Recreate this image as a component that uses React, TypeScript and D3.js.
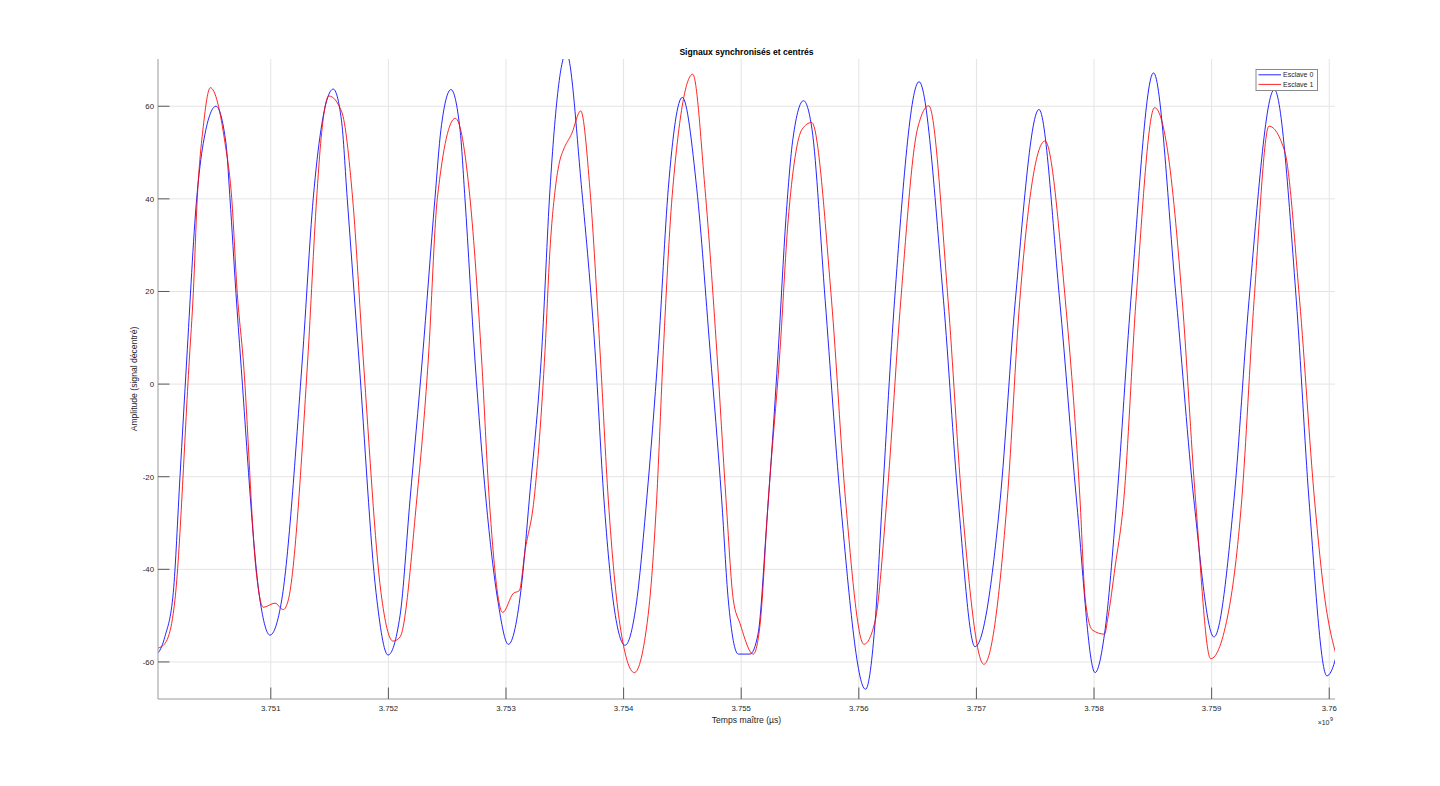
import React from "react";
import * as d3 from "d3";

// Time is stored as an offset in ms from 3.750×10^9 µs; amplitude in signal units.
const xDomainMs = [41, 10049];
const yDomain = [-68, 70.2];

const xTicksMs = [1000, 2000, 3000, 4000, 5000, 6000, 7000, 8000, 9000, 10000];
const xTickLabels = ["3.751", "3.752", "3.753", "3.754", "3.755", "3.756", "3.757", "3.758", "3.759", "3.76"];
const yTicks = [-60, -40, -20, 0, 20, 40, 60];

const seriesNames = ["Esclave 0", "Esclave 1"];
const seriesColors = ["#0000ff", "#ff0000"];

// Esclave 0 (blue): [time offset ms, amplitude]
const esclave0 = [
  [-10, -58.8], [43, -58.0], [100, -54.5], [171, -45], [228, -20], [285, 5.2], [370, 40.1], [426, 52], [534, 60],
  [619, 52], [653, 40.1], [704, 19.6], [744, 5.2], [908, -46.6], [993, -54.2], [1093, -46.6],
  [1268, 5.2], [1361, 40.1], [1427, 55], [1531, 63.7], [1601, 57], [1650, 40.1], [1750, 5.2],
  [1895, -45], [1997, -58.5], [2099, -50], [2184, -25], [2288, 5.2], [2396, 40.1], [2447, 55],
  [2532, 63.6], [2609, 55], [2651, 40.1], [2736, 5.2], [2830, -25], [2932, -47], [3020, -56.2],
  [3134, -43], [3198, -25], [3304, 7.3], [3374, 42], [3514, 71.5], [3644, 42], [3757, 7.3],
  [3833, -25], [3918, -48], [4012, -56.4], [4105, -48], [4196, -25], [4295, 7.3], [4380, 42.2],
  [4499, 61.9], [4622, 42.2], [4735, 7.3], [4834, -25], [4890, -46.6], [4975, -58.3], [5075, -58.3],
  [5143, -54], [5217, -30], [5315, 7.3], [5381, 36], [5440, 53], [5530, 61.2], [5602, 55],
  [5714, 18.1], [5843, -25], [6057, -65.9], [6140, -51], [6200, -25], [6304, 18.1], [6512, 65.3],
  [6720, 18.1], [6845, -25], [6988, -56.7], [7202, -25], [7331, 18.1], [7532, 59.3], [7708, 18.1],
  [7851, -25], [8009, -62.3], [8089, -54], [8194, -25], [8313, 18.1], [8506, 67.2], [8700, 18.1],
  [8849, -25], [9020, -54.6], [9190, -25], [9318, 18.1], [9533, 63.6], [9720, 18.1], [9828, -25],
  [9980, -63], [10048, -59.8], [10109, -52],
];

// Esclave 1 (red): [time offset ms, amplitude]
const esclave1 = [
  [-10, -57.4], [43, -57], [94, -56.2], [128, -54.6], [157, -51.7], [185, -46.6], [307, 5.2],
  [341, 19.6], [375, 40.1], [426, 55.6], [486, 64], [611, 52], [668, 40.1], [715, 19.6], [766, 5.2],
  [874, -40], [936, -48.2], [1036, -47.3], [1106, -48.7], [1149, -46.6], [1314, 5.2], [1390, 40.1],
  [1424, 52], [1495, 62.2], [1603, 58.8], [1696, 40.1], [1787, 5.2], [1937, -45], [2039, -55.5],
  [2099, -54.6], [2241, -25], [2339, 5.2], [2416, 40.1], [2569, 57.4], [2694, 40.1], [2793, 5.2],
  [2858, -25], [2972, -49.3], [3062, -45.2], [3113, -44.6], [3162, -36], [3238, -25], [3332, 7.3],
  [3374, 29], [3425, 43.4], [3459, 48.4], [3487, 50.5], [3559, 54.1], [3635, 59], [3714, 42],
  [3799, 7.3], [3870, -25], [3969, -52], [4091, -62.3], [4208, -50], [4281, -25], [4338, 7.3],
  [4418, 42.2], [4588, 66.9], [4692, 42.2], [4792, 7.3], [4871, -25], [4933, -46.6], [4990, -51.7],
  [5103, -58.3], [5160, -52], [5230, -25], [5330, 7.3], [5398, 35], [5458, 49], [5517, 55], [5599, 56.5], [5768, 18.1],
  [5887, -25], [6044, -56.2], [6140, -51], [6238, -25], [6357, 18.1], [6497, 54.9], [6595, 60.1],
  [6759, 18.1], [6875, -25], [7063, -60.5], [7262, -25], [7369, 18.1], [7583, 52.5], [7756, 18.1],
  [7881, -25], [7926, -46.6], [7986, -53.1], [8089, -54], [8119, -50.3], [8179, -39.5], [8253, -25],
  [8357, 18.1], [8515, 59.7], [8625, 50.5], [8750, 18.1], [8863, -25], [8992, -59.3], [9146, -48.8],
  [9256, -25], [9361, 18.1], [9488, 55.7], [9622, 50.2], [9748, 18.1], [9875, -25], [9964, -46.6],
  [10048, -57.5], [10109, -62],
];

const FONT = "'Liberation Sans', Arial, Helvetica, sans-serif";

export default function App() {
  const W = 1440;
  const H = 786;
  const left = 158;
  const right = 1335;
  const top = 59;
  const bottom = 699;

  const x = d3.scaleLinear().domain(xDomainMs).range([left, right]);
  const y = d3.scaleLinear().domain(yDomain).range([bottom, top]);

  const line = d3
    .line<number[]>()
    .x((d) => x(d[0]))
    .y((d) => y(d[1]))
    .curve(d3.curveMonotoneX);

  const series = [esclave0, esclave1];
  const tickLen = 11.5;
  const textColor = "#262626";

  const legX = 1256;
  const legY = 69.5;
  const legW = 61.5;
  const legH = 21;

  return (
    <svg
      width={W}
      height={H}
      style={{ position: "absolute", left: 0, top: 0, background: "#ffffff" }}
      fontFamily={FONT}
    >
      <rect x={0} y={0} width={W} height={H} fill="#ffffff" />
      <defs>
        <clipPath id="plotClip">
          <rect x={left} y={top} width={right - left} height={bottom - top} />
        </clipPath>
      </defs>

      {/* grid */}
      <g stroke="#e4e4e4" strokeWidth={1}>
        {xTicksMs.map((t) => (
          <line key={"gx" + t} x1={x(t)} x2={x(t)} y1={top} y2={bottom} />
        ))}
        {yTicks.map((v) => (
          <line key={"gy" + v} x1={left} x2={right} y1={y(v)} y2={y(v)} />
        ))}
      </g>

      {/* series */}
      <g clipPath="url(#plotClip)" fill="none" strokeWidth={1}>
        {series.map((s, i) => (
          <path key={i} d={line(s as number[][]) || ""} stroke={seriesColors[i]} strokeOpacity={0.85} />
        ))}
      </g>

      {/* axes */}
      <g stroke="#9a9a9a" strokeWidth={1}>
        <line x1={left} x2={right} y1={bottom} y2={bottom} />
        <line x1={left} x2={left} y1={top} y2={bottom} />
      </g>
      <g stroke="#5a5a5a" strokeWidth={1}>
        {xTicksMs.map((t) => (
          <line key={"tx" + t} x1={x(t)} x2={x(t)} y1={bottom} y2={bottom - tickLen} />
        ))}
        {yTicks.map((v) => (
          <line key={"ty" + v} x1={left} x2={left + tickLen} y1={y(v)} y2={y(v)} />
        ))}
      </g>

      {/* tick labels */}
      <g fontSize={7.8} fill={textColor}>
        {xTicksMs.map((t, i) => (
          <text key={"lx" + t} x={x(t)} y={711} textAnchor="middle">
            {xTickLabels[i]}
          </text>
        ))}
        {yTicks.map((v) => (
          <text key={"ly" + v} x={154} y={y(v) + 2.8} textAnchor="end">
            {v}
          </text>
        ))}
      </g>

      {/* exponent */}
      <text x={1329.5} y={725} fontSize={7} fill={textColor} textAnchor="end">
        ×10
      </text>
      <text x={1330} y={721} fontSize={5.5} fill={textColor}>
        9
      </text>

      {/* axis labels */}
      <text x={(left + right) / 2} y={723} fontSize={8.6} fill={textColor} textAnchor="middle">
        Temps maître (µs)
      </text>
      <text
        transform={`translate(137,${(top + bottom) / 2}) rotate(-90)`}
        fontSize={8.6}
        fill={textColor}
        textAnchor="middle"
      >
        Amplitude (signal décentré)
      </text>

      {/* title */}
      <text x={(left + right) / 2} y={54.8} fontSize={8.6} fontWeight="bold" fill="#000000" textAnchor="middle">
        Signaux synchronisés et centrés
      </text>

      {/* legend */}
      <rect x={legX} y={legY} width={legW} height={legH} fill="#ffffff" stroke="#8a8a8a" strokeWidth={1} />
      {seriesNames.map((name, i) => (
        <g key={name}>
          <line
            x1={legX + 2.5}
            x2={legX + 25}
            y1={legY + 5.3 + i * 9.6}
            y2={legY + 5.3 + i * 9.6}
            stroke={seriesColors[i]}
            strokeWidth={1}
            strokeOpacity={0.85}
          />
          <text x={legX + 27} y={legY + 5.3 + i * 9.6 + 2.4} fontSize={7} fill={textColor}>
            {name}
          </text>
        </g>
      ))}
    </svg>
  );
}
